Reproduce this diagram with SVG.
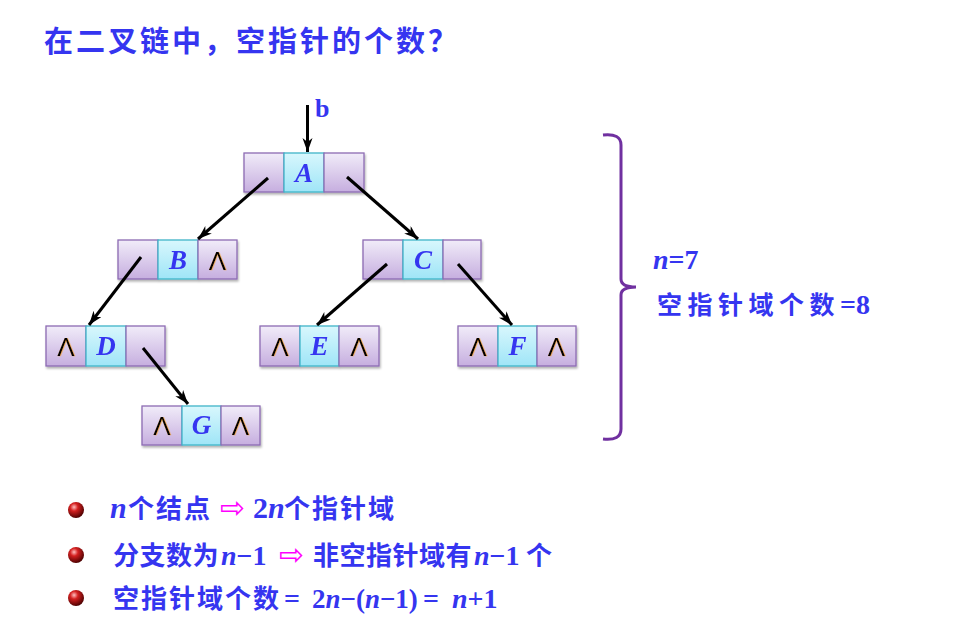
<svg xmlns="http://www.w3.org/2000/svg" width="953" height="641" viewBox="0 0 953 641">
<defs>
<linearGradient id="gp" x1="0" y1="0" x2="0" y2="1">
<stop offset="0" stop-color="#f1ecf9"/><stop offset="1" stop-color="#c6aedf"/>
</linearGradient>
<linearGradient id="gc" x1="0" y1="0" x2="0" y2="1">
<stop offset="0" stop-color="#d8f7fd"/><stop offset="1" stop-color="#9fe5f7"/>
</linearGradient>
<radialGradient id="ball" cx="0.38" cy="0.32" r="0.7">
<stop offset="0" stop-color="#ffc0c0"/><stop offset="0.35" stop-color="#d42020"/><stop offset="1" stop-color="#4a0000"/>
</radialGradient>
<filter id="sh" x="-10%" y="-10%" width="130%" height="140%">
<feDropShadow dx="1" dy="2" stdDeviation="1" flood-color="#000" flood-opacity="0.3"/>
</filter>
<filter id="osh" x="-20%" y="-20%" width="150%" height="150%">
<feDropShadow dx="0.7" dy="0.3" stdDeviation="0.2" flood-color="#ff9900" flood-opacity="0.6"/>
</filter>
<marker id="ah" markerUnits="userSpaceOnUse" markerWidth="16" markerHeight="12" refX="14" refY="5" orient="auto">
<path d="M0,0 L14,5 L0,10 L4,5 Z" fill="#000"/>
</marker>
<style>
.p{fill:url(#gp);stroke:#8d6bb3;stroke-width:1.3}
.c{fill:url(#gc);stroke:#3fb5c9;stroke-width:1.3}
.lab{font-family:"Liberation Serif",serif;font-weight:bold;font-style:italic;font-size:27px;fill:#3535f0;text-anchor:middle}
.nul{font-family:"Liberation Sans",sans-serif;font-size:26px;fill:#000;text-anchor:middle;filter:url(#osh)}
.edge{stroke:#000;stroke-width:3;fill:none;marker-end:url(#ah)}
.cjk{font-family:"Noto Sans CJK SC",sans-serif;font-weight:bold;fill:#3535f0}
.m{font-family:"Liberation Serif",serif;font-weight:bold;fill:#3535f0}
.i{font-style:italic}
.arr{font-family:"DejaVu Sans",sans-serif;fill:#ff00ff;font-weight:normal}
</style>
</defs>
<rect width="953" height="641" fill="#fff"/>

<text id="title" class="cjk" x="44" y="52" font-size="29" letter-spacing="3">在二叉链中，空指针的个数？</text>

<g id="node-A" transform="translate(244,153)" filter="url(#sh)">
<rect class="p" x="0" y="0" width="40" height="39"/><rect class="c" x="40" y="0" width="40" height="39"/><rect class="p" x="80" y="0" width="40" height="39"/>
<text class="lab" x="60" y="29">A</text>
</g>
<g id="node-B" transform="translate(118,240)" filter="url(#sh)">
<rect class="p" x="0" y="0" width="40" height="39"/><rect class="c" x="40" y="0" width="40" height="39"/><rect class="p" x="80" y="0" width="39" height="39"/>
<text class="lab" x="60" y="29">B</text><text class="nul" x="99.5" y="30">Λ</text>
</g>
<g id="node-C" transform="translate(363,240)" filter="url(#sh)">
<rect class="p" x="0" y="0" width="40" height="39"/><rect class="c" x="40" y="0" width="40" height="39"/><rect class="p" x="80" y="0" width="38" height="39"/>
<text class="lab" x="60" y="29">C</text>
</g>
<g id="node-D" transform="translate(46,326)" filter="url(#sh)">
<rect class="p" x="0" y="0" width="40" height="40"/><rect class="c" x="40" y="0" width="40" height="40"/><rect class="p" x="80" y="0" width="39" height="40"/>
<text class="nul" x="20" y="30">Λ</text><text class="lab" x="60" y="29">D</text>
</g>
<g id="node-E" transform="translate(260,326)" filter="url(#sh)">
<rect class="p" x="0" y="0" width="40" height="40"/><rect class="c" x="40" y="0" width="39" height="40"/><rect class="p" x="79" y="0" width="40" height="40"/>
<text class="nul" x="20" y="30">Λ</text><text class="lab" x="59.5" y="29">E</text><text class="nul" x="99" y="30">Λ</text>
</g>
<g id="node-F" transform="translate(458,326)" filter="url(#sh)">
<rect class="p" x="0" y="0" width="40" height="40"/><rect class="c" x="40" y="0" width="39" height="40"/><rect class="p" x="79" y="0" width="39" height="40"/>
<text class="nul" x="20" y="30">Λ</text><text class="lab" x="59.5" y="29">F</text><text class="nul" x="98.5" y="30">Λ</text>
</g>
<g id="node-G" transform="translate(142,406)" filter="url(#sh)">
<rect class="p" x="0" y="0" width="40" height="39"/><rect class="c" x="40" y="0" width="39" height="39"/><rect class="p" x="79" y="0" width="39" height="39"/>
<text class="nul" x="20" y="29">Λ</text><text class="lab" x="59.5" y="28">G</text><text class="nul" x="98.5" y="29">Λ</text>
</g>

<g id="connectors">
<line class="edge" x1="307.5" y1="105" x2="307.5" y2="152"/>
<line class="edge" x1="268" y1="178" x2="198" y2="239"/>
<line class="edge" x1="347" y1="177" x2="418" y2="239"/>
<line class="edge" x1="141" y1="257" x2="89" y2="325"/>
<line class="edge" x1="387" y1="264" x2="317" y2="325"/>
<line class="edge" x1="458" y1="264" x2="512" y2="325"/>
<line class="edge" x1="143" y1="348" x2="188" y2="404"/>
</g>
<text id="label-b" class="m" x="315" y="117" font-size="26">b</text>

<g id="brace">
<path d="M603,135 Q621,133 621,145 L621,279 Q621,287 636,287 Q621,287 621,295 L621,429 Q621,441 603,439" fill="none" stroke="#7030a0" stroke-width="3"/>
</g>
<text id="n7" class="m" x="653" y="269" font-size="28"><tspan class="i">n</tspan>=7</text>
<text id="count8" class="cjk" x="657" y="314" font-size="25" letter-spacing="5.5">空指针域个数<tspan class="m" font-size="28" letter-spacing="0">=8</tspan></text>

<g id="bullets">
<circle cx="76" cy="510" r="8" fill="url(#ball)"/>
<circle cx="76" cy="555" r="8" fill="url(#ball)"/>
<circle cx="76" cy="598" r="8" fill="url(#ball)"/>
</g>

<text id="line1" font-size="26">
<tspan class="m i" x="110" y="518" font-size="30">n</tspan><tspan class="cjk" x="128" y="518" letter-spacing="2">个结点</tspan><tspan class="arr" x="220" y="518" font-size="30">⇨</tspan><tspan class="m" x="253" y="518" font-size="30">2<tspan class="i">n</tspan></tspan><tspan class="cjk" x="284" y="518" letter-spacing="2">个指针域</tspan>
</text>
<text id="line2" font-size="26">
<tspan class="cjk" x="113" y="565" letter-spacing="0.5">分支数为</tspan><tspan class="m" x="221" y="565" font-size="28"><tspan class="i">n</tspan>−1</tspan><tspan class="arr" x="279" y="565" font-size="30">⇨</tspan><tspan class="cjk" x="313" y="565" letter-spacing="0.5">非空指针域有</tspan><tspan class="m" x="474" y="565" font-size="28"><tspan class="i">n</tspan>−1</tspan><tspan class="cjk" x="526" y="565">个</tspan>
</text>
<text id="line3" font-size="26">
<tspan class="cjk" x="113" y="608" letter-spacing="2">空指针域个数</tspan><tspan class="m" x="284" y="608" font-size="28">=</tspan><tspan class="m" x="312" y="608" font-size="27">2<tspan class="i">n</tspan>−(<tspan class="i">n</tspan>−1)</tspan><tspan class="m" x="423" y="608" font-size="28">=</tspan><tspan class="m" x="452" y="608" font-size="28"><tspan class="i">n</tspan>+1</tspan>
</text>
</svg>
